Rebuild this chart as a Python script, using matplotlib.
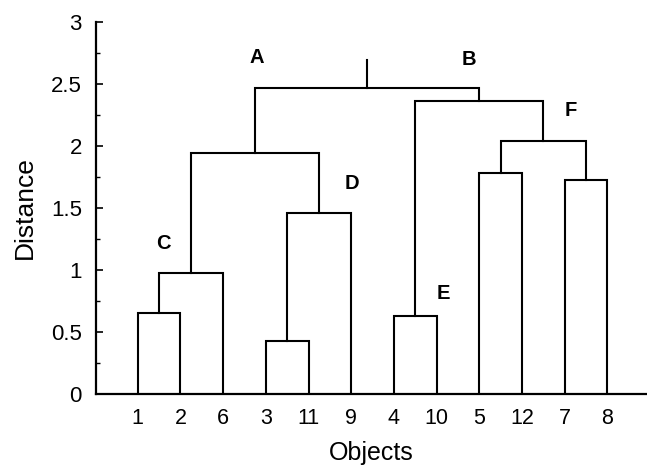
import matplotlib.pyplot as plt
from matplotlib.ticker import MultipleLocator, FormatStrFormatter

plt.rcParams['font.family'] = ['Liberation Sans', 'DejaVu Sans']

# leaf order along the x axis
leaves = ['1', '2', '6', '3', '11', '9', '4', '10', '5', '12', '7', '8']

# merges: node name, left child, right child, merge distance
merge_names  = ['p12', 'C', 'p311', 'D', 'A', 'E', 'p512', 'p78', 'F', 'B', 'root']
merge_left   = ['1', 'p12', '3', 'p311', 'C', '4', '5', '7', 'p512', 'E', 'A']
merge_right  = ['2', '6', '11', '9', 'D', '10', '12', '8', 'p78', 'F', 'B']
merge_height = [0.65, 0.98, 0.43, 1.46, 1.94, 0.63, 1.78, 1.73, 2.04, 2.36, 2.47]
root_top = 2.69

# cluster letters and where they are written
letters  = ['A', 'B', 'C', 'D', 'E', 'F']
letter_x = [3.79, 8.76, 1.59, 6.02, 8.15, 11.15]
letter_y = [2.71, 2.70, 1.21, 1.70, 0.81, 2.29]

fig = plt.figure(figsize=(6.47, 4.68), dpi=100)
ax = fig.add_axes([0.148, 0.158, 0.852, 0.795])

pos = {name: (i + 1, 0.0) for i, name in enumerate(leaves)}
lw = 1.5
for name, l, r, h in zip(merge_names, merge_left, merge_right, merge_height):
    xl, yl = pos[l]
    xr, yr = pos[r]
    ax.plot([xl, xl, xr, xr], [yl, h, h, yr], color='black', lw=lw,
            solid_joinstyle='miter')
    pos[name] = ((xl + xr) / 2, h)

xr, yr = pos['root']
ax.plot([xr, xr], [yr, root_top], color='black', lw=lw)

for t, x, y in zip(letters, letter_x, letter_y):
    ax.text(x, y, t, ha='center', va='center', fontsize=14.5, fontweight='bold')

ax.set_xlim(0.015, 12.93)
ax.set_ylim(0, 3)
ax.set_xticks(range(1, len(leaves) + 1))
ax.set_xticklabels(leaves)
ax.yaxis.set_major_locator(MultipleLocator(0.5))
ax.yaxis.set_minor_locator(MultipleLocator(0.25))
ax.yaxis.set_major_formatter(FormatStrFormatter('%g'))
ax.tick_params(axis='x', length=0, pad=10, labelsize=15.5)
ax.tick_params(axis='y', which='major', direction='in', length=5, width=1.2,
               pad=10, labelsize=16)
ax.tick_params(axis='y', which='minor', direction='in', length=3, width=1)

for s in ['top', 'right']:
    ax.spines[s].set_visible(False)
ax.spines['left'].set_linewidth(1.6)
ax.spines['bottom'].set_linewidth(1.6)

ax.set_xlabel('Objects', fontsize=18, labelpad=9)
ax.set_ylabel('Distance', fontsize=19, labelpad=10)

fig.savefig('out.png', dpi=100)
